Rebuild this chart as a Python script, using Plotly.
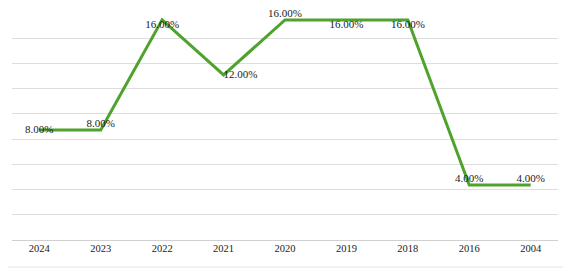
import plotly.graph_objects as go

years = ["2024", "2023", "2022", "2021", "2020", "2019", "2018", "2016", "2004"]
values = [0.08, 0.08, 0.16, 0.12, 0.16, 0.16, 0.16, 0.04, 0.04]
label_text = ["8.00%", "8.00%", "16.00%", "12.00%", "16.00%", "16.00%", "16.00%", "4.00%", "4.00%"]
label_pos = ["middle center", "top center", "bottom center", "middle right", "top center",
             "bottom center", "bottom center", "top center", "top center"]

fig = go.Figure()
fig.add_trace(go.Scatter(
    x=years, y=values, mode="lines+text",
    line=dict(color="#4fa22e", width=3),
    text=label_text, textposition=label_pos,
    textfont=dict(family="Liberation Serif, Times New Roman, serif", size=11, color="#1a1a1a"),
    hoverinfo="skip", cliponaxis=False,
))

ymax = 0.165
# page body has an 8px default margin, compensated in the figure margins
fig.update_layout(
    width=571, height=271,
    margin=dict(l=4, r=21, t=5, b=39),
    paper_bgcolor="white", plot_bgcolor="white",
    showlegend=False,
    xaxis=dict(type="category", showgrid=False, zeroline=False, showline=False,
               ticks="", tickfont=dict(family="Liberation Serif, Times New Roman, serif", size=10.5, color="#222")),
    yaxis=dict(range=[0, ymax], tick0=0, dtick=ymax / 9, showticklabels=False,
               showgrid=True, gridcolor="#dedede", gridwidth=1, zeroline=True,
               zerolinecolor="#d0d0d0", zerolinewidth=1, showline=False),
    shapes=[dict(type="rect", xref="paper", yref="paper",
                 x0=-0.0183, x1=1.0165, y0=-0.119, y1=1.048,
                 line=dict(color="#e3e3e3", width=1), fillcolor="rgba(0,0,0,0)", layer="below")],
)

fig.write_html("out.html")
